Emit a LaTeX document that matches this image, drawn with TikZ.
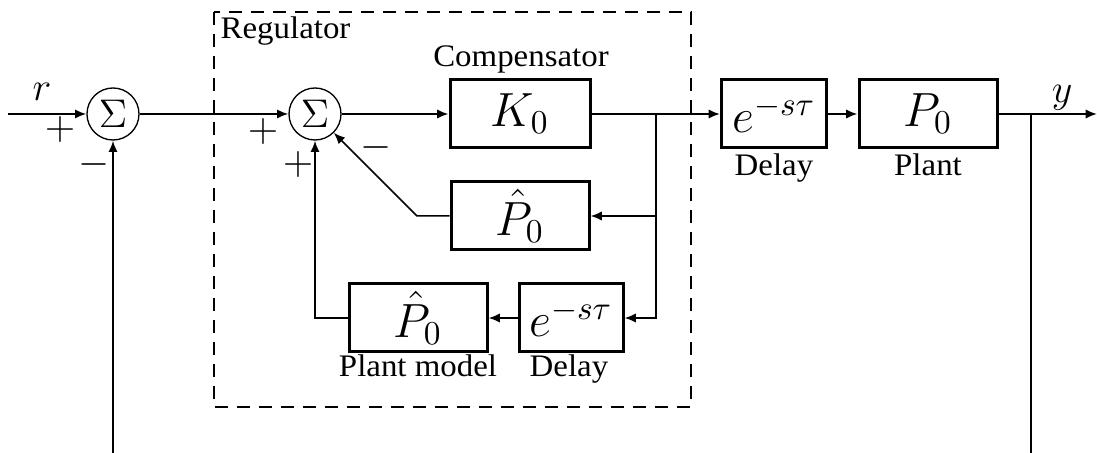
\documentclass[tikz,border=0pt]{standalone}
\usepackage{amsmath}
\usepackage{graphicx}
\usepackage{fontspec}
\setmainfont{Liberation Serif}
\usepackage{tikz}
\usetikzlibrary{arrows.meta,positioning}
\newcommand{\wtext}[1]{\scalebox{1.05}[1]{#1}}

\begin{document}
\begin{tikzpicture}[x=0.3pt,y=-0.3pt,
  >={Latex[length=3.4pt,width=2.8pt]},
  blk/.style={draw,line width=0.9pt,minimum height=20.4pt,inner sep=0pt,font=\Large},
  sumnode/.style={draw,circle,line width=0.4pt,minimum size=15.6pt,inner sep=0pt,font=\large},
  sgn/.style={font=\large},
  wire/.style={line width=0.6pt},
  txt/.style={anchor=base,inner sep=0pt,font=\fontsize{9.4}{11}\selectfont}]
  \useasboundingbox (0,0) rectangle (1097,453);
  % regulator frame
  \draw[line width=0.75pt,dash pattern=on 4pt off 2.6pt] (214,12) rectangle (691,407);
  \node[txt,anchor=base west] (regl) at (220,39) {\wtext{Regulator}};

  % blocks
  \node[sumnode] (s1) at (113,114) {$\Sigma$};
  \node[sumnode] (s2) at (315,114) {$\Sigma$};
  \node[blk,minimum width=42pt] (K0) at (520,114) {$K_0$};
  \node[blk,minimum width=31.5pt] (D1) at (774,114) {$e^{-s\tau}$};
  \node[blk,minimum width=41.4pt] (P0) at (928,114) {$P_0$};
  \node[blk,minimum width=41.4pt] (Ph) at (520,216) {$\hat{P}_0$};
  \node[blk,minimum width=31.2pt] (Dm) at (571,318) {$e^{-s\tau}$};
  \node[blk,minimum width=41.4pt] (Pm) at (418,318) {$\hat{P}_0$};

  % captions
  \node[txt] (compl) at (521,67) {\wtext{Compensator}};
  \node[txt] (d1l) at (774,176) {\wtext{Delay}};
  \node[txt] (p0l) at (928,176) {\wtext{Plant}};
  \node[txt] (pml) at (418,377) {\wtext{Plant model}};
  \node[txt] (dml) at (569,377) {\wtext{Delay}};

  % signs and signals
  \node[sgn] (rl) at (42,92) {$r$};
  \node[sgn] (yl) at (1062,98) {$y$};
  \node[sgn] (p1) at (60,130) {$+$};
  \node[sgn] (m1) at (94,165) {$-$};
  \node[sgn] (p2) at (263,132) {$+$};
  \node[sgn] (p3) at (298,165) {$+$};
  \node[sgn] (m2) at (376,148) {$-$};

  \coordinate (in) at (8,114);
  \coordinate (out) at (1097,114);
  \coordinate (br) at (656,114);
  \coordinate (fbr) at (1031,114);
  \coordinate (fbrend) at (1031,453);
  \coordinate (fbl) at (113,453);
  \coordinate (knee) at (417,216);

  \draw[wire,->] (in) -- (s1);
  \draw[wire,->] (s1) -- (s2);
  \draw[wire,->] (s2) -- (K0);
  \draw[wire] (K0) -- (br);
  \draw[wire,->] (br) -- (D1);
  \draw[wire,->] (D1) -- (P0);
  \draw[wire,->] (P0) -- (out);
  \draw[wire] (fbr) -- (fbrend);
  \draw[wire,->] (fbl) -- (s1);
  \draw[wire,->] (br) |- (Dm);
  \draw[wire,->] (br |- Ph) -- (Ph);
  \draw[wire,->] (Dm) -- (Pm);
  \draw[wire,->] (Pm) -| (s2);
  \draw[line width=0.45pt,->] (Ph) -- (knee) -- (s2.south east);
\end{tikzpicture}
\end{document}
